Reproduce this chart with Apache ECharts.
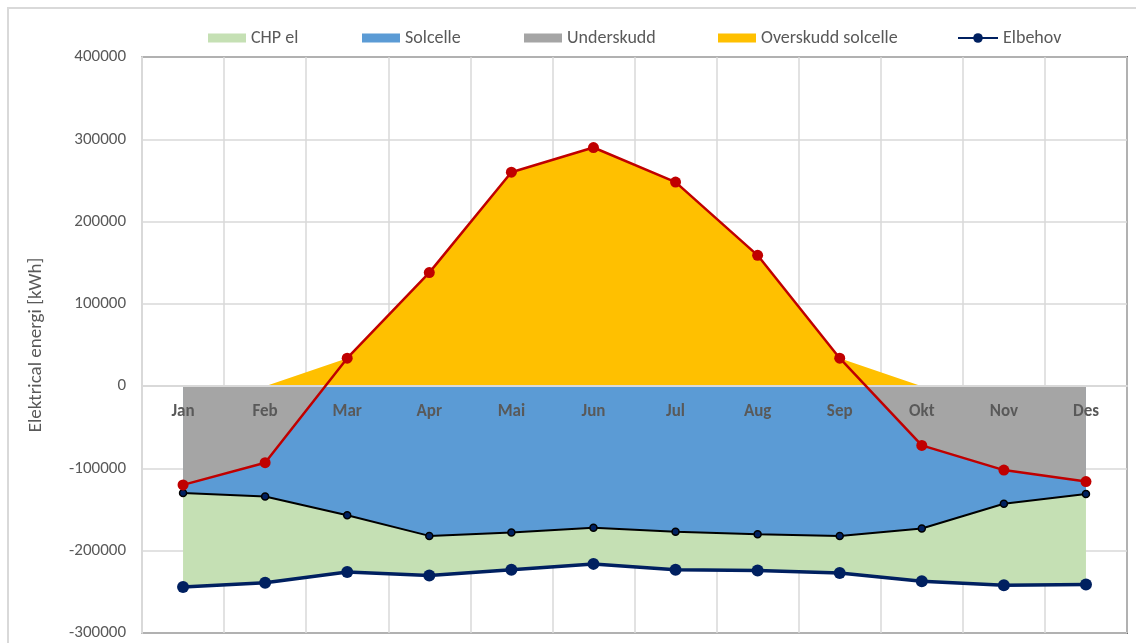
<!DOCTYPE html>
<html>
<head>
<meta charset="utf-8">
<script src="https://cdn.jsdelivr.net/npm/echarts@6/dist/echarts.min.js"></script>
<style>
  html, body { margin: 0; padding: 0; background: #fff; }
  #chart { width: 1136px; height: 643px; }
</style>
</head>
<body>
<div id="chart"></div>
<script>
// Months on the category axis
const months = ['Jan', 'Feb', 'Mar', 'Apr', 'Mai', 'Jun', 'Jul', 'Aug', 'Sep', 'Okt', 'Nov', 'Des'];

// Electricity demand (negative = consumption), kWh
const elbehov = [-244000, -239000, -226000, -230000, -223000, -216000, -223000, -224000, -227000, -237000, -242000, -241000];
// Demand remaining after CHP production (upper edge of the CHP band), kWh
const etterChp = [-130000, -134000, -157000, -182000, -178000, -172000, -177000, -180000, -182000, -173000, -143000, -131000];
// Balance after solar production, kWh
const etterSol = [-120000, -93000, 34000, 138000, 260000, 290000, 248000, 159000, 34000, -72000, -102000, -116000];
// Solar surplus, kWh
const overskudd = [0, 0, 34000, 138000, 260000, 290000, 248000, 159000, 34000, 0, 0, 0];

// Value axis ticks
const yMin = -300000, yMax = 400000, yStep = 100000;

const FONT = 'Carlito, Lato, sans-serif';
const GREY_TEXT = '#595959';
const GRID_LINE = '#d9d9d9';

// Filled bands sit above the grid lines but below the zero line and month labels
function areaSeries(name, data, color) {
  return {
    name: name,
    type: 'line',
    z: -2,
    data: data,
    showSymbol: false,
    symbol: 'none',
    lineStyle: { width: 0 },
    itemStyle: { color: color },
    areaStyle: { color: color, opacity: 1, origin: 0 },
    emphasis: { disabled: true },
    silent: true
  };
}

function markerLine(name, data, color, width, size, itemStyle) {
  return {
    name: name,
    type: 'line',
    z: 5,
    data: data,
    symbol: 'circle',
    symbolSize: size,
    lineStyle: { color: color, width: width },
    itemStyle: itemStyle || { color: color },
    emphasis: { disabled: true }
  };
}

function legendFor(name, left, icon, w, h) {
  const l = {
    data: [name],
    left: left - 5,
    top: 24,
    itemWidth: w,
    itemHeight: h,
    itemGap: 0,
    selectedMode: false,
    textStyle: { color: GREY_TEXT, fontSize: 18, fontFamily: FONT }
  };
  if (icon) l.data = [{ name: name, icon: icon }];
  return l;
}

const chart = echarts.init(document.getElementById('chart'));
chart.setOption({
  animation: false,
  backgroundColor: '#fff',
  textStyle: { fontFamily: FONT },
  graphic: [{
    type: 'rect',
    shape: { x: 8, y: 8, width: 1140, height: 650 },
    style: { fill: 'none', stroke: '#d9d9d9', lineWidth: 2 },
    silent: true,
    z: -10
  }],
  legend: [
    legendFor('CHP el', 208, 'rect', 38, 9),
    legendFor('Solcelle', 362, 'rect', 38, 9),
    legendFor('Underskudd', 524, 'rect', 38, 9),
    legendFor('Overskudd solcelle', 718, 'rect', 38, 9),
    legendFor('Elbehov', 957, null, 40, 12)
  ],
  grid: {
    left: 142, right: 9, top: 57, bottom: 10,
    z: -8,
    outerBoundsMode: 'none',
    show: true,
    borderColor: '#000',
    borderWidth: 1.5,
    backgroundColor: 'transparent'
  },
  xAxis: [
    {
      // zero line and month labels, drawn above the areas
      type: 'category',
      data: months,
      boundaryGap: true,
      position: 'bottom',
      offset: 0,
      z: 3,
      axisLine: { show: true, onZero: false, lineStyle: { color: GRID_LINE, width: 2 } },
      axisTick: { show: false },
      axisLabel: {
        interval: 0,
        margin: 17,
        color: GREY_TEXT,
        fontWeight: 'bold',
        fontSize: 17,
        fontFamily: FONT
      },
      splitLine: { show: false }
    },
    {
      // vertical grid lines between the months, kept behind the areas
      type: 'category',
      data: months,
      boundaryGap: true,
      position: 'top',
      z: -5,
      axisLine: { show: false, onZero: false },
      axisTick: { show: false },
      axisLabel: { show: false, interval: 0 },
      splitLine: { show: true, interval: 0, lineStyle: { color: GRID_LINE, width: 1.5 } }
    }
  ],
  yAxis: {
    type: 'value',
    min: yMin,
    max: yMax,
    interval: yStep,
    z: -5,
    name: 'Elektrical energi [kWh]',
    nameLocation: 'middle',
    nameGap: 96,
    nameTextStyle: { color: GREY_TEXT, fontSize: 19, fontFamily: FONT },
    axisLine: { show: true, onZero: false, lineStyle: { color: GRID_LINE, width: 2 } },
    axisTick: { show: false },
    axisLabel: {
      color: GREY_TEXT,
      fontSize: 17,
      margin: 16,
      fontFamily: FONT,
      formatter: function (v) { return String(v); }
    },
    splitLine: { show: true, lineStyle: { color: GRID_LINE, width: 1.5 } }
  },
  series: [
    areaSeries('CHP el', elbehov, '#c5e0b4'),
    areaSeries('Solcelle', etterChp, '#5b9bd5'),
    areaSeries('Underskudd', etterSol, '#a5a5a5'),
    areaSeries('Overskudd solcelle', overskudd, '#ffc000'),
    markerLine('Etter CHP', etterChp, '#000', 2, 7, { color: '#002060', borderColor: '#000', borderWidth: 1.5 }),
    markerLine('Etter sol', etterSol, '#c00000', 2.5, 11),
    markerLine('Elbehov', elbehov, '#002060', 3.5, 12)
  ]
});

// Lift the month axis from the bottom edge up to the value 0 on the value scale
const zeroPx = chart.convertToPixel({ yAxisIndex: 0 }, 0);
const bottomPx = chart.convertToPixel({ yAxisIndex: 0 }, yMin);
chart.setOption({ xAxis: [{ offset: zeroPx - bottomPx }, {}] });
</script>
</body>
</html>
